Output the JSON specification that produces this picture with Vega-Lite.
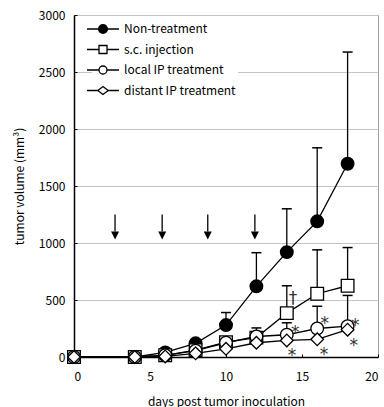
{
  "$schema": "https://vega.github.io/schema/vega-lite/v6.json",
  "width": 304,
  "height": 342,
  "autosize": {"type": "none"},
  "padding": {"left": 74, "top": 15, "right": 6, "bottom": 50},
  "background": "white",
  "config": {
    "font": "Noto Sans CJK JP",
    "view": {"stroke": "#a0a0a0", "strokeWidth": 1},
    "axis": {
      "labelFontSize": 12,
      "labelColor": "black",
      "labelFont": "Noto Sans CJK JP",
      "titleFont": "Noto Sans CJK JP",
      "titleFontWeight": "normal",
      "titleColor": "black",
      "titleFontSize": 12,
      "domainColor": "black",
      "domainWidth": 1.5,
      "tickColor": "black",
      "tickSize": -3,
      "tickWidth": 1
    }
  },
  "resolve": {"scale": {"shape": "independent"}},
  "datasets": {
    "series": [
      {"series": "Non-treatment", "day": 0, "v": 0, "hi": null},
      {"series": "Non-treatment", "day": 4, "v": 0, "hi": null},
      {"series": "Non-treatment", "day": 6, "v": 40, "hi": null},
      {"series": "Non-treatment", "day": 8, "v": 120, "hi": null},
      {"series": "Non-treatment", "day": 10, "v": 280, "hi": 390},
      {"series": "Non-treatment", "day": 12, "v": 620, "hi": 915},
      {"series": "Non-treatment", "day": 14, "v": 920, "hi": 1300},
      {"series": "Non-treatment", "day": 16, "v": 1190, "hi": 1835},
      {"series": "Non-treatment", "day": 18, "v": 1695, "hi": 2675},
      {"series": "s.c. injection", "day": 0, "v": 0, "hi": null},
      {"series": "s.c. injection", "day": 4, "v": 0, "hi": null},
      {"series": "s.c. injection", "day": 6, "v": 15, "hi": null},
      {"series": "s.c. injection", "day": 8, "v": 60, "hi": null},
      {"series": "s.c. injection", "day": 10, "v": 130, "hi": null},
      {"series": "s.c. injection", "day": 12, "v": 170, "hi": null},
      {"series": "s.c. injection", "day": 14, "v": 385, "hi": 625},
      {"series": "s.c. injection", "day": 16, "v": 555, "hi": 940},
      {"series": "s.c. injection", "day": 18, "v": 625, "hi": 960},
      {"series": "local IP treatment", "day": 0, "v": 0, "hi": null},
      {"series": "local IP treatment", "day": 4, "v": 0, "hi": null},
      {"series": "local IP treatment", "day": 6, "v": 15, "hi": null},
      {"series": "local IP treatment", "day": 8, "v": 55, "hi": null},
      {"series": "local IP treatment", "day": 10, "v": 125, "hi": null},
      {"series": "local IP treatment", "day": 12, "v": 180, "hi": 255},
      {"series": "local IP treatment", "day": 14, "v": 195, "hi": 300},
      {"series": "local IP treatment", "day": 16, "v": 250, "hi": 445},
      {"series": "local IP treatment", "day": 18, "v": 270, "hi": 540},
      {"series": "distant IP treatment", "day": 0, "v": 0, "hi": null},
      {"series": "distant IP treatment", "day": 4, "v": 0, "hi": null},
      {"series": "distant IP treatment", "day": 6, "v": 5, "hi": null},
      {"series": "distant IP treatment", "day": 8, "v": 32, "hi": null},
      {"series": "distant IP treatment", "day": 10, "v": 72, "hi": null},
      {"series": "distant IP treatment", "day": 12, "v": 125, "hi": null},
      {"series": "distant IP treatment", "day": 14, "v": 145, "hi": null},
      {"series": "distant IP treatment", "day": 16, "v": 155, "hi": null},
      {"series": "distant IP treatment", "day": 18, "v": 240, "hi": null}
    ],
    "arrows": [
      {"day": 2.7, "top": 1250, "base": 1100, "tip": 1065},
      {"day": 5.8, "top": 1250, "base": 1100, "tip": 1065},
      {"day": 8.8, "top": 1250, "base": 1100, "tip": 1065},
      {"day": 11.9, "top": 1250, "base": 1100, "tip": 1065}
    ],
    "notes": [
      {"day": 14.4, "v": 545, "t": "†"},
      {"day": 14.55, "v": 243, "t": "*"},
      {"day": 16.5, "v": 325, "t": "*"},
      {"day": 18.5, "v": 310, "t": "*"},
      {"day": 14.35, "v": 47, "t": "*"},
      {"day": 16.45, "v": 55, "t": "*"},
      {"day": 18.4, "v": 135, "t": "*"}
    ]
  },
  "layer": [
    {
      "data": {"name": "series"},
      "mark": {"type": "line", "color": "black", "strokeWidth": 1.3},
      "encoding": {
        "x": {"field": "day", "type": "quantitative", "scale": {"domain": [0, 20], "nice": false},
              "title": "days post tumor inoculation",
              "axis": {"values": [0, 5, 10, 15, 20], "grid": false, "labelPadding": 17, "titlePadding": 14}},
        "y": {"field": "v", "type": "quantitative", "scale": {"domain": [0, 3000], "nice": false},
              "title": "tumor volume (mm³)",
              "axis": {"values": [0, 500, 1000, 1500, 2000, 2500, 3000], "format": "d", "grid": true, "gridColor": "#c4c4c4", "gridWidth": 1, "labelPadding": 12, "titlePadding": 12}},
        "detail": {"field": "series", "type": "nominal"}
      }
    },
    {
      "data": {"name": "series"},
      "transform": [{"filter": "datum.hi != null"}],
      "mark": {"type": "rule", "color": "black", "strokeWidth": 1.3},
      "encoding": {
        "x": {"field": "day", "type": "quantitative", "title": "days post tumor inoculation"},
        "y": {"field": "v", "type": "quantitative", "title": "tumor volume (mm³)"},
        "y2": {"field": "hi"}
      }
    },
    {
      "data": {"name": "series"},
      "transform": [{"filter": "datum.hi != null"}],
      "mark": {"type": "tick", "color": "black", "orient": "horizontal", "size": 10, "thickness": 1.5, "opacity": 1},
      "encoding": {
        "x": {"field": "day", "type": "quantitative", "title": "days post tumor inoculation"},
        "y": {"field": "hi", "type": "quantitative", "title": "tumor volume (mm³)"}
      }
    },
    {
      "data": {"name": "series"},
      "mark": {"type": "point", "filled": true, "stroke": "black", "strokeWidth": 1.3, "opacity": 1, "size": 160},
      "encoding": {
        "x": {"field": "day", "type": "quantitative", "title": "days post tumor inoculation"},
        "y": {"field": "v", "type": "quantitative", "title": "tumor volume (mm³)"},
        "shape": {
          "field": "series", "type": "nominal",
          "scale": {"domain": ["Non-treatment", "s.c. injection", "local IP treatment", "distant IP treatment"],
                    "range": ["circle", "square", "circle", "diamond"]},
          "legend": null
        },
        "fill": {
          "field": "series", "type": "nominal",
          "scale": {"domain": ["Non-treatment", "s.c. injection", "local IP treatment", "distant IP treatment"],
                    "range": ["black", "white", "white", "white"]},
          "legend": null
        }
      }
    },
    {
      "data": {"name": "series"},
      "transform": [{"filter": "datum.day < 0"}],
      "mark": {"type": "point", "filled": false, "color": "black", "strokeWidth": 1.3, "opacity": 1},
      "encoding": {
        "shape": {
          "field": "series", "type": "nominal",
          "scale": {"domain": ["Non-treatment", "s.c. injection", "local IP treatment", "distant IP treatment"],
                    "range": [
                      "M-2,0H-0.55M0.55,0H2M-0.55,0A0.55,0.55,0,1,0,0.55,0A0.55,0.55,0,1,0,-0.55,0M-0.4,0A0.4,0.4,0,1,0,0.4,0A0.4,0.4,0,1,0,-0.4,0M-0.25,0A0.25,0.25,0,1,0,0.25,0A0.25,0.25,0,1,0,-0.25,0M-0.1,0A0.1,0.1,0,1,0,0.1,0A0.1,0.1,0,1,0,-0.1,0",
                      "M-2,0H-0.5M0.5,0H2M-0.5,-0.5H0.5V0.5H-0.5Z",
                      "M-2,0H-0.5M0.5,0H2M-0.5,0A0.5,0.5,0,1,0,0.5,0A0.5,0.5,0,1,0,-0.5,0",
                      "M-2,0H-0.65M0.65,0H2M-0.65,0L0,-0.5L0.65,0L0,0.5Z"
                    ]},
          "legend": {
            "title": null, "orient": "none", "legendX": 18, "legendY": 3, "padding": 2,
            "fillColor": "white",
            "symbolSize": 256, "labelFontSize": 12, "labelOffset": 12, "rowPadding": 4.5,
            "labelColor": "black", "labelFont": "Noto Sans CJK JP",
            "symbolStrokeWidth": 1.3, "symbolStrokeColor": "black", "symbolFillColor": "white", "symbolOpacity": 1
          }
        }
      }
    },
    {
      "data": {"name": "arrows"},
      "mark": {"type": "rule", "color": "black", "strokeWidth": 1.3},
      "encoding": {
        "x": {"field": "day", "type": "quantitative", "title": "days post tumor inoculation"},
        "y": {"field": "top", "type": "quantitative", "title": "tumor volume (mm³)"},
        "y2": {"field": "base"}
      }
    },
    {
      "data": {"name": "arrows"},
      "mark": {"type": "point", "shape": "M-1,-1L1,-1L0,1Z", "filled": true, "color": "black", "opacity": 1, "size": 64, "strokeWidth": 0},
      "encoding": {
        "x": {"field": "day", "type": "quantitative", "title": "days post tumor inoculation"},
        "y": {"field": "tip", "type": "quantitative", "title": "tumor volume (mm³)"}
      }
    },
    {
      "data": {"name": "notes"},
      "mark": {"type": "text", "color": "#333333", "fontSize": 17, "font": "DejaVu Sans", "dy": 4},
      "encoding": {
        "x": {"field": "day", "type": "quantitative", "title": "days post tumor inoculation"},
        "y": {"field": "v", "type": "quantitative", "title": "tumor volume (mm³)"},
        "text": {"field": "t"}
      }
    }
  ]
}
